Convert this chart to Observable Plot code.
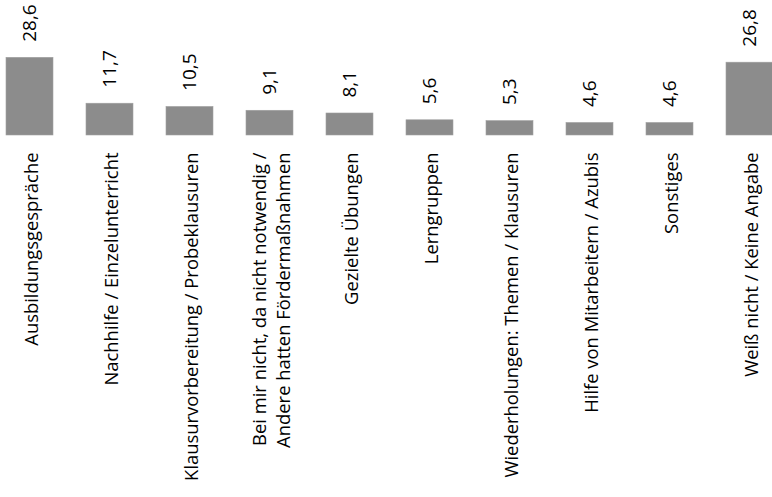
<!DOCTYPE html>
<html>
<head>
<meta charset="utf-8">
<script src="https://cdn.jsdelivr.net/npm/d3@7"></script>
<script src="https://cdn.jsdelivr.net/npm/@observablehq/plot@0.6"></script>
<style>
  html, body { margin: 0; padding: 0; background: #fff; }
  #chart svg { display: block; }
</style>
</head>
<body>
<div id="chart"></div>
<script>
const categories = [
  "Ausbildungsgespräche",
  "Nachhilfe / Einzelunterricht",
  "Klausurvorbereitung / Probeklausuren",
  "Bei mir nicht, da nicht notwendig /\nAndere hatten Fördermaßnahmen",
  "Gezielte Übungen",
  "Lerngruppen",
  "Wiederholungen: Themen / Klausuren",
  "Hilfe von Mitarbeitern / Azubis",
  "Sonstiges",
  "Weiß nicht / Keine Angabe"
];
const values = [28.6, 11.7, 10.5, 9.1, 8.1, 5.6, 5.3, 4.6, 4.6, 26.8];
const valueLabels = ["28,6", "11,7", "10,5", "9,1", "8,1", "5,6", "5,3", "4,6", "4,6", "26,8"];

const data = categories.map((c, i) => ({category: c, value: values[i], label: valueLabels[i]}));

const font = "'Open Sans', 'Noto Sans', sans-serif";

const chart = Plot.plot({
  width: 772,
  height: 497,
  margin: 0,
  style: {fontFamily: font, background: "#fff"},
  x: {domain: categories, range: [6, 773], paddingInner: 0.4125, paddingOuter: 0, axis: null},
  y: {domain: [0, 28.6], range: [135, 57.3], axis: null},
  marks: [
    Plot.barY(data, {x: "category", y: "value", fill: "#8c8c8c", stroke: "#a0a0a0", strokeWidth: 0.6}),
    Plot.text(data, {
      x: "category", y: "value", text: "label",
      rotate: -90, textAnchor: "start", dy: -16,
      fontSize: 19, fill: "#000"
    }),
    Plot.text(data, {
      x: "category", y: () => 0, text: "category",
      rotate: -90, textAnchor: "end", dy: 17, lineHeight: 1.3,
      fontSize: 18.4, fill: "#000"
    })
  ]
});
document.getElementById("chart").appendChild(chart);
</script>
</body>
</html>
